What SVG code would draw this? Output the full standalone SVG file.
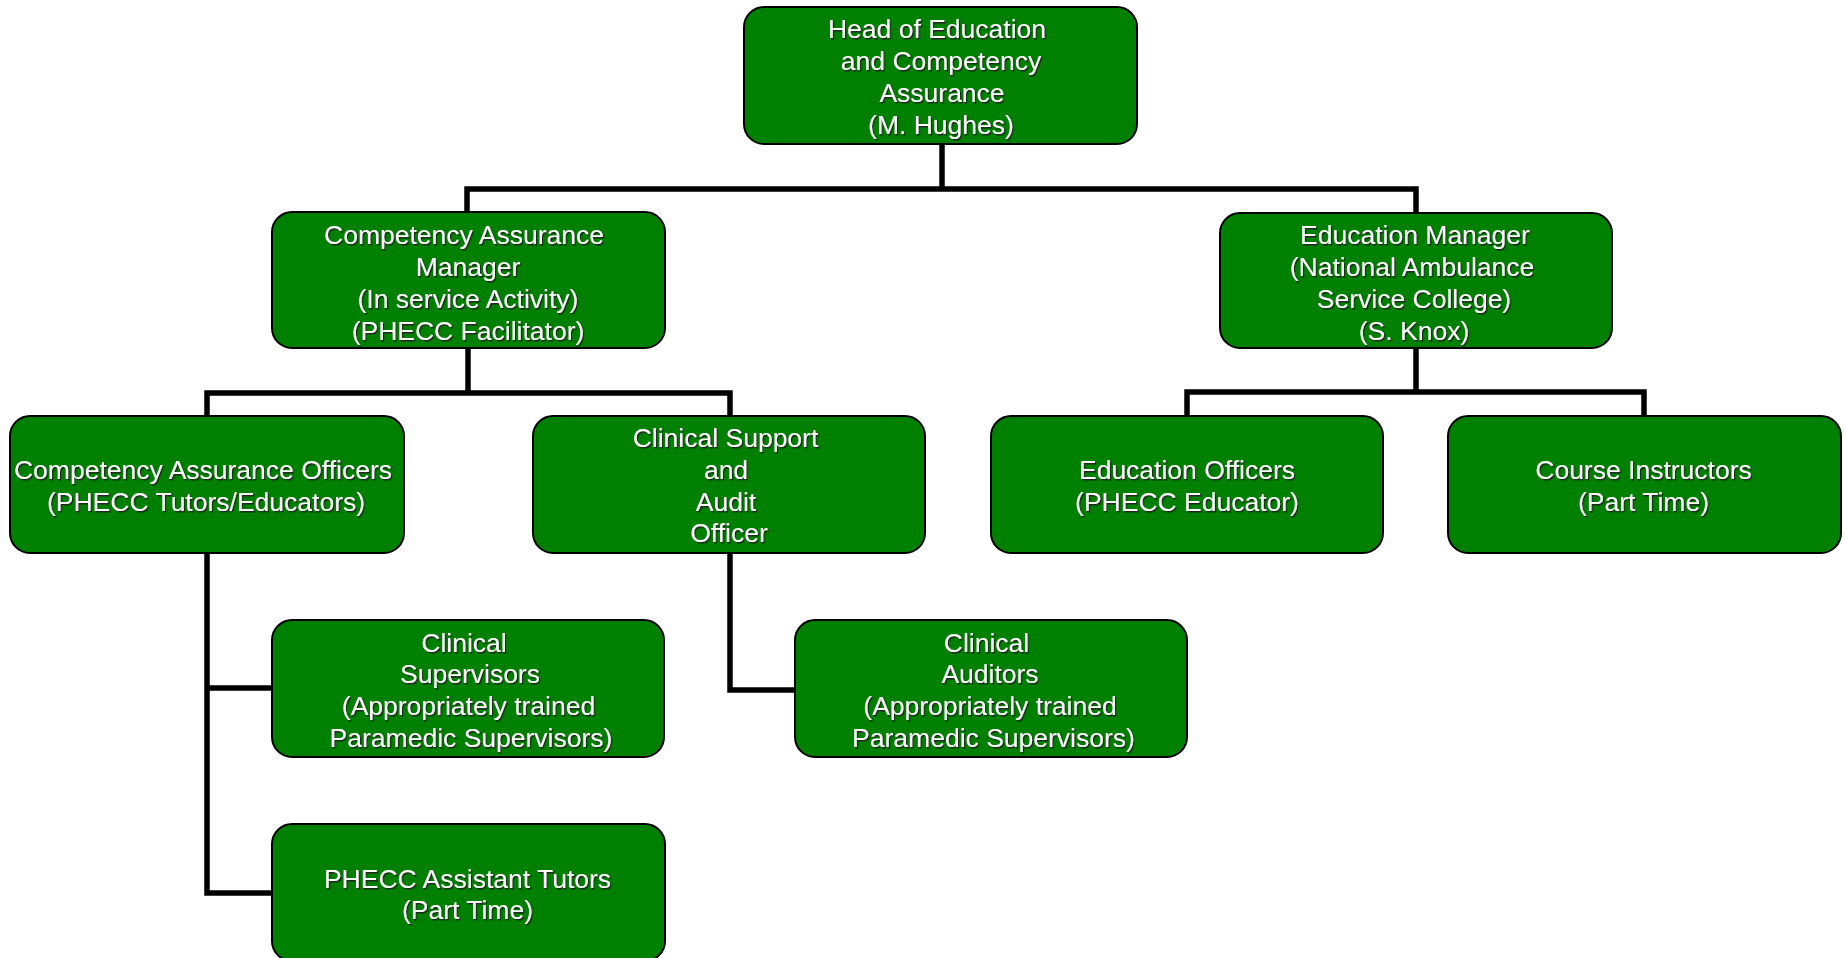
<svg xmlns="http://www.w3.org/2000/svg" width="1846" height="958" viewBox="0 0 1846 958">
<defs>
<style>
.box{fill:#008000;stroke:#000;stroke-width:2}
.t{font-family:"Liberation Sans",Arial,sans-serif;font-size:26.5px;fill:#fff;text-anchor:middle;filter:url(#sh)}
.c{fill:none;stroke:#000;stroke-width:5.5;stroke-linejoin:miter}
</style>
<filter id="sh" x="-5%" y="-20%" width="110%" height="140%">
<feDropShadow dx="1.2" dy="1.5" stdDeviation="0.4" flood-color="#1a1a1a" flood-opacity="0.9"/>
</filter>
</defs>
<rect width="1846" height="958" fill="#fff"/>
<g id="connectors">
<path class="c" d="M942 144V189"/>
<path class="c" d="M467 212V189H1416V213"/>
<path class="c" d="M468 348V393"/>
<path class="c" d="M207 416V393H730V416"/>
<path class="c" d="M1416 348V392"/>
<path class="c" d="M1187 416V392H1644V416"/>
<path class="c" d="M207 553V893H272"/>
<path class="c" d="M207 688H272"/>
<path class="c" d="M730 553V690H795"/>
</g>
<g id="head">
<rect class="box" x="744" y="7" width="393" height="137" rx="20"/>
<text class="t"><tspan x="937" y="38">Head of Education</tspan><tspan x="941" y="70">and Competency</tspan><tspan x="942" y="102">Assurance</tspan><tspan x="941" y="134">(M. Hughes)</tspan></text>
</g>
<g id="cam">
<rect class="box" x="272" y="212" width="393" height="136" rx="20"/>
<text class="t"><tspan x="464" y="244">Competency Assurance</tspan><tspan x="468" y="276">Manager</tspan><tspan x="468" y="308">(In service Activity)</tspan><tspan x="468" y="340">(PHECC Facilitator)</tspan></text>
</g>
<g id="em">
<rect class="box" x="1220" y="213" width="392" height="135" rx="20"/>
<text class="t"><tspan x="1415" y="244">Education Manager</tspan><tspan x="1412" y="276">(National Ambulance</tspan><tspan x="1414" y="308">Service College)</tspan><tspan x="1414" y="340">(S. Knox)</tspan></text>
</g>
<g id="cao">
<rect class="box" x="10" y="416" width="394" height="137" rx="20"/>
<text class="t"><tspan x="203" y="479">Competency Assurance Officers</tspan><tspan x="206" y="511">(PHECC Tutors/Educators)</tspan></text>
</g>
<g id="csao">
<rect class="box" x="533" y="416" width="392" height="137" rx="20"/>
<text class="t"><tspan x="725.5" y="447">Clinical Support</tspan><tspan x="726" y="479">and</tspan><tspan x="726" y="511">Audit</tspan><tspan x="729" y="542">Officer</tspan></text>
</g>
<g id="eo">
<rect class="box" x="991" y="416" width="392" height="137" rx="20"/>
<text class="t"><tspan x="1187" y="479">Education Officers</tspan><tspan x="1187" y="511">(PHECC Educator)</tspan></text>
</g>
<g id="ci">
<rect class="box" x="1448" y="416" width="393" height="137" rx="20"/>
<text class="t"><tspan x="1643.5" y="479">Course Instructors</tspan><tspan x="1643.5" y="511">(Part Time)</tspan></text>
</g>
<g id="cs">
<rect class="box" x="272" y="620" width="392" height="137" rx="20"/>
<text class="t"><tspan x="464" y="652">Clinical</tspan><tspan x="470" y="683">Supervisors</tspan><tspan x="468.5" y="715">(Appropriately trained</tspan><tspan x="471" y="747">Paramedic Supervisors)</tspan></text>
</g>
<g id="ca">
<rect class="box" x="795" y="620" width="392" height="137" rx="20"/>
<text class="t"><tspan x="986.5" y="652">Clinical</tspan><tspan x="990" y="683">Auditors</tspan><tspan x="990" y="715">(Appropriately trained</tspan><tspan x="993.5" y="747">Paramedic Supervisors)</tspan></text>
</g>
<g id="pat">
<rect class="box" x="272" y="824" width="393" height="137" rx="20"/>
<text class="t"><tspan x="467.5" y="888">PHECC Assistant Tutors</tspan><tspan x="467.5" y="919">(Part Time)</tspan></text>
</g>
</svg>
